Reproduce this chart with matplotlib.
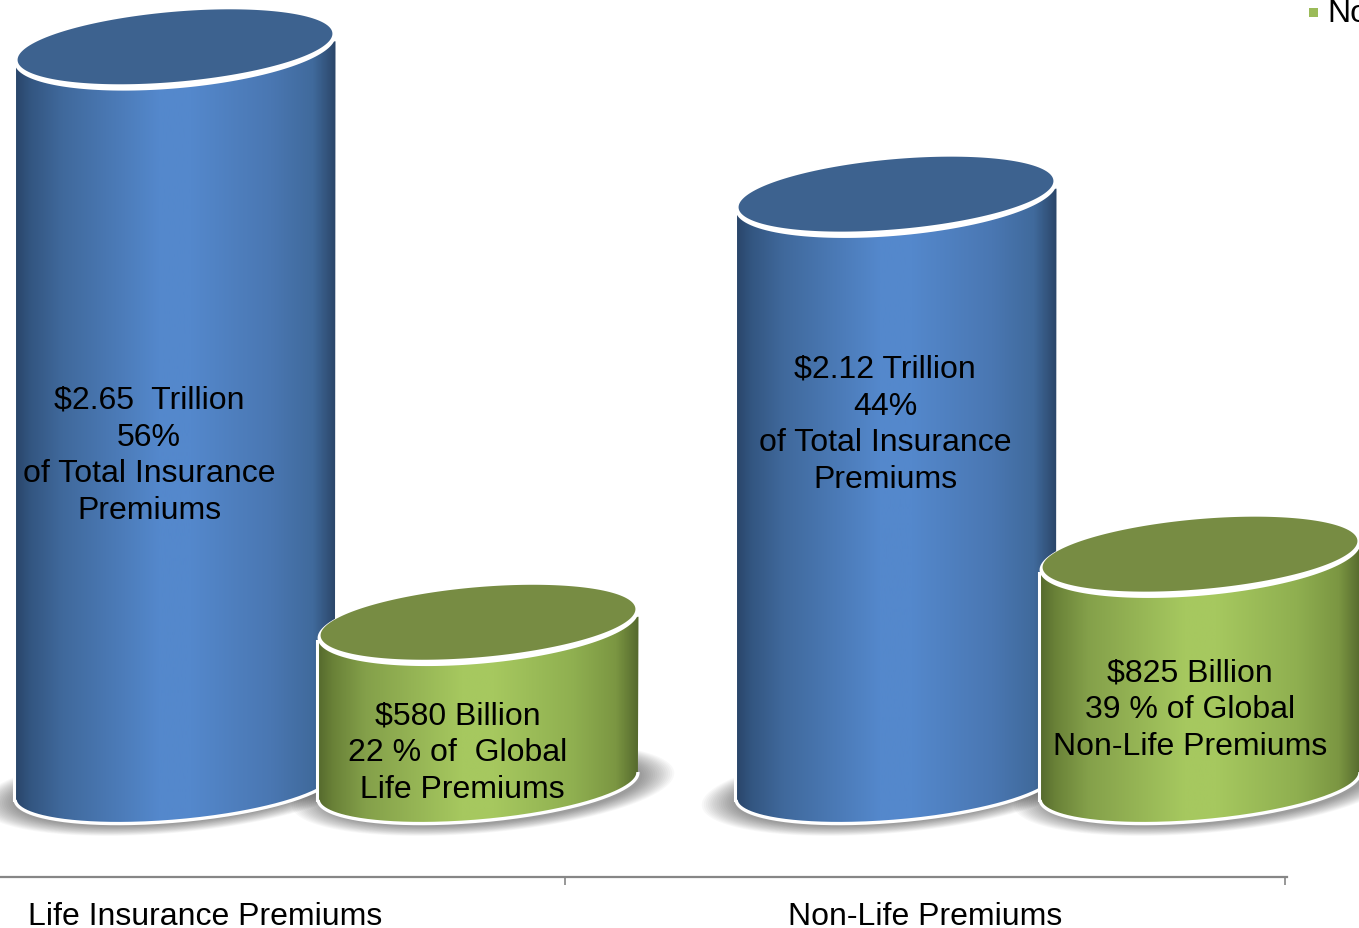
import numpy as np
import matplotlib
matplotlib.use("Agg")
import matplotlib.pyplot as plt
from matplotlib.colors import LinearSegmentedColormap
from matplotlib.patches import Polygon, Rectangle

categories = ["Life Insurance Premiums", "Non-Life Premiums"]
total_premiums = [2.65, 2.12]
segment_premiums = [0.58, 0.825]
total_labels = ["$2.65  Trillion\n56%\nof Total Insurance\nPremiums",
                "$2.12 Trillion\n44%\nof Total Insurance\nPremiums"]
segment_labels = ["$580 Billion\n22 % of  Global\n Life Premiums",
                  "$825 Billion\n39 % of Global\nNon-Life Premiums"]

# scale of the chart, pixels of the 1359x929 picture
PX_X = 720.0
PX_Y = 278.0
X0 = 205.0
Y0 = 787.0


def dx(px):
    return px / PX_X


def dy(px):
    return -px / PX_Y


def to_data(px, py):
    return (px - X0) / PX_X, (Y0 - py) / PX_Y


blue_map = LinearSegmentedColormap.from_list("blue", [(0, "#294468"), (0.05, "#335681"), (0.15, "#40699c"), (0.45, "#5488cc"), (0.55, "#5488cc"), (0.8, "#4a77b2"), (0.93, "#406a9c"), (1, "#2b4669")])
green_map = LinearSegmentedColormap.from_list("green", [(0, "#55692d"), (0.05, "#6a8238"), (0.15, "#84a04a"), (0.45, "#a6c85f"), (0.55, "#a6c85f"), (0.8, "#8faf50"), (0.93, "#7b9642"), (1, "#55692d")])

plt.rcParams["font.family"] = ["Liberation Sans", "DejaVu Sans"]
fig = plt.figure(figsize=(13.59, 9.29), dpi=100)
ax = fig.add_axes([0, 0, 1, 1])


def ellipse(xc, yc, a, b, tilt=5.0, n=181, start=0, stop=360):
    # tilted ellipse round a centre in data units, a and b in pixels
    t = np.radians(np.linspace(start, stop, n))
    r = np.radians(tilt)
    u = a * np.cos(t)
    v = b * np.sin(t)
    return np.column_stack([xc + dx(u * np.cos(r) - v * np.sin(r)),
                            yc + dy(-u * np.sin(r) - v * np.cos(r))])


def draw_shadow(xc, shift, zorder=1):
    for k in range(16):
        f = k / 15
        pts = ellipse(xc + dx(shift), dy(3), 160 + 32 * (1 - f), 35 + 9 * (1 - f))
        ax.add_patch(Polygon(pts, closed=True, fc="black", ec="none", alpha=0.027, zorder=zorder))


def draw_cylinder(xc, value, cmap, top_color, zorder):
    # body: lower half of the base ellipse closed up to the top
    base = ellipse(xc, 0, 160.5, 35, start=180, stop=360)
    body = np.vstack([base, [[xc + dx(160.5), value + dy(-8)]], [[xc - dx(160.5), value + dy(16)]]])
    patch = Polygon(body, closed=True, fc="none", ec="none", zorder=zorder)
    ax.add_patch(patch)
    grad = np.linspace(0, 1, 256).reshape(1, -1)
    im = ax.imshow(grad, cmap=cmap, aspect="auto", zorder=zorder,
                   extent=[xc - dx(161), xc + dx(161), -0.2, value + 0.1])
    im.set_clip_path(patch)
    ax.add_patch(Polygon(base, closed=False, fc="none", ec="white", lw=2.4, zorder=zorder + 0.1))
    ax.plot([xc - dx(161)] * 2, [base[0, 1], value + dy(16)], color="white", lw=2.2, zorder=zorder + 0.1)
    # white rim and the flat top
    ax.add_patch(Polygon(ellipse(xc, value, 161, 39), closed=True, fc="white", ec="none", zorder=zorder + 0.2))
    ax.add_patch(Polygon(ellipse(xc, value + dy(-2.5), 158, 35), closed=True, fc=top_color, ec="none", zorder=zorder + 0.3))


total_x = [to_data(175, 0)[0], to_data(896, 0)[0]]
segment_x = [to_data(478, 0)[0], to_data(1200, 0)[0]]

for i in range(2):
    draw_shadow(total_x[i], -3)
    draw_shadow(segment_x[i], 5)
for i in range(2):
    draw_cylinder(total_x[i], total_premiums[i], blue_map, "#3d628f", 2 + i * 2)
    draw_cylinder(segment_x[i], segment_premiums[i], green_map, "#778c43", 3 + i * 2)

total_pos = [(149, 456), (885, 425)]
segment_pos = [(458, 753), (1190, 710)]
for i in range(2):
    tx, ty = to_data(*total_pos[i])
    ax.text(tx, ty, total_labels[i], ha="center", va="center", fontsize=23, linespacing=1.3, color="black", zorder=10)
    tx, ty = to_data(*segment_pos[i])
    ax.text(tx, ty, segment_labels[i], ha="center", va="center", fontsize=23, linespacing=1.3, color="black", zorder=10)

# bit of legend cut off by the picture edge
sx, sy = to_data(1309, 18)
ax.add_patch(Rectangle((sx, sy), dx(9), -dy(9), fc="#9bbb59", ec="none", zorder=10))
tx, ty = to_data(1327, 14)
ax.text(tx, ty, "No", ha="left", va="center", fontsize=23, color="black", zorder=10)

ax.patch.set_alpha(0)
for side in ["top", "left", "right"]:
    ax.spines[side].set_visible(False)
ax.spines["bottom"].set_position(("data", to_data(0, 878)[1]))
ax.spines["bottom"].set_color("#868686")
ax.spines["bottom"].set_linewidth(1.6)
ax.spines["bottom"].set_bounds(-0.5, 1.503)
ax.set_yticks([])
ax.set_xticks([-0.5, 0.5, 1.5])
ax.set_xticklabels([])
ax.set_xticks([0, 1], minor=True)
ax.set_xticklabels(categories, minor=True, fontsize=23)
ax.tick_params(axis="x", which="major", direction="out", length=6, width=1.2, color="#868686")
ax.tick_params(axis="x", which="minor", length=0, pad=17)
# ticks move the view, so the limits come last
ax.set_xlim(to_data(0, 0)[0], to_data(1359, 0)[0])
ax.set_ylim(to_data(0, 929)[1], to_data(0, 0)[1])

fig.savefig("out.png", dpi=100)
